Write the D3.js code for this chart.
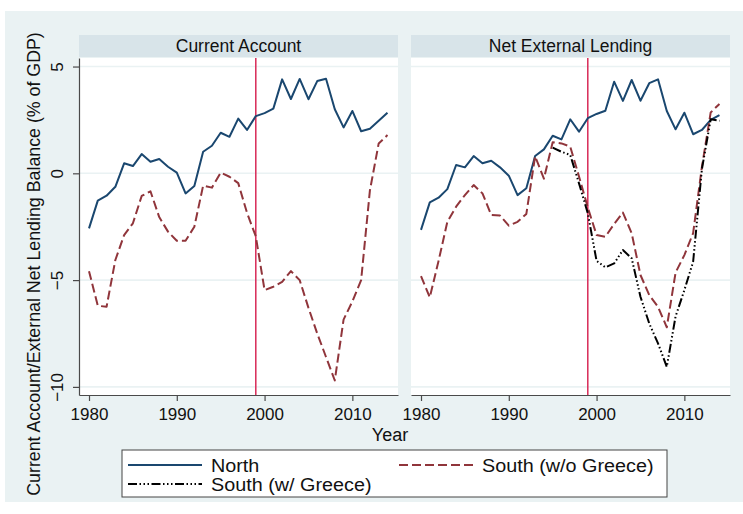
<!DOCTYPE html>
<html><head><meta charset="utf-8">
<script src="https://cdn.jsdelivr.net/npm/d3@7"></script>
<style>body{margin:0;background:#fff}svg{display:block;font-family:"Liberation Sans",Arial,Helvetica,sans-serif}</style>
</head><body><svg id="c" width="743" height="514"></svg>
<script>
const years = [1980,1981,1982,1983,1984,1985,1986,1987,1988,1989,1990,1991,1992,1993,1994,1995,1996,1997,1998,1999,2000,2001,2002,2003,2004,2005,2006,2007,2008,2009,2010,2011,2012,2013,2014];
const greeceYears = [1995,1996,1997,1998,1999,2000,2001,2002,2003,2004,2005,2006,2007,2008,2009,2010,2011,2012,2013,2014];
const panelTitles = ["Current Account", "Net External Lending"];
const seriesNames = ["North", "South (w/o Greece)", "South (w/ Greece)"];
const northCA = [-2.58,-1.28,-1.05,-0.63,0.47,0.34,0.90,0.54,0.67,0.31,0.03,-0.94,-0.59,1.01,1.29,1.90,1.71,2.56,2.03,2.68,2.82,3.03,4.40,3.48,4.42,3.47,4.32,4.43,3.00,2.15,2.92,1.97,2.09,2.46,2.84];
const southCA = [-4.58,-6.20,-6.25,-4.06,-2.89,-2.34,-1.06,-0.84,-2.05,-2.73,-3.16,-3.16,-2.50,-0.58,-0.67,0.03,-0.16,-0.46,-1.85,-2.95,-5.47,-5.31,-5.08,-4.58,-5.00,-6.30,-7.50,-8.60,-9.70,-6.85,-6.00,-5.00,-0.80,1.40,1.79];
const northNEL = [-2.65,-1.36,-1.14,-0.74,0.39,0.28,0.81,0.47,0.59,0.28,-0.11,-1.02,-0.70,0.81,1.12,1.76,1.59,2.53,1.95,2.58,2.78,2.93,4.29,3.39,4.37,3.40,4.22,4.40,2.92,2.06,2.84,1.83,2.03,2.50,2.73];
const southNEL = [-4.81,-5.81,-4.10,-2.27,-1.56,-1.02,-0.55,-0.94,-1.95,-1.98,-2.45,-2.27,-1.90,0.80,-0.25,1.46,1.40,1.25,-0.15,-1.60,-2.89,-2.97,-2.37,-1.84,-2.81,-4.76,-5.70,-6.25,-7.21,-4.65,-3.83,-2.80,0.30,2.85,3.25];
const southGreeceNEL = [1.20,1.01,0.86,-0.47,-1.87,-4.10,-4.40,-4.22,-3.59,-3.98,-5.78,-7.03,-7.96,-9.06,-6.70,-5.47,-4.14,0.20,2.53,2.46];
const xTicks = [1980,1990,2000,2010];
const yTicks = [5,0,-5,-10];
const euroYear = 1999;

const C = {bg:"#eaf2f3", strip:"#d8e4e9", grid:"#eaf2f3", north:"#1a476f", south:"#90353b", greece:"#000000", vline:"#d82a57", axis:"#4a4a4a"};
const FONT = "Liberation Sans, Arial, sans-serif";
const svg = d3.select("#c");
svg.append("rect").attr("x",5).attr("y",11).attr("width",738).attr("height",491).attr("fill",C.bg);

const yTop = 58, yBot = 395;
const y = d3.scaleLinear().domain([-10.38, 5.4]).range([yBot, yTop]);
const panelsX = [[79,398],[411,730]];
const panelData = [
  [{x:years, v:northCA, c:C.north, dash:null}, {x:years, v:southCA, c:C.south, dash:"9,4"}],
  [{x:years, v:northNEL, c:C.north, dash:null}, {x:years, v:southNEL, c:C.south, dash:"9,4"}, {x:greeceYears, v:southGreeceNEL, c:C.greece, dash:"9,2.5,1.5,2.5,1.5,2.5,1.5,2.5"}]
];

panelsX.forEach((px, i) => {
  const x = d3.scaleLinear().domain([1978.86, 2015.2]).range(px);
  const g = svg.append("g");
  g.append("rect").attr("x",px[0]).attr("y",35).attr("width",px[1]-px[0]).attr("height",22).attr("fill",C.strip);
  g.append("text").attr("x",(px[0]+px[1])/2).attr("y",52).attr("text-anchor","middle").attr("font-size",17.5).attr("fill","#111").text(panelTitles[i]);
  g.append("rect").attr("x",px[0]).attr("y",yTop).attr("width",px[1]-px[0]).attr("height",yBot-yTop).attr("fill","#fff");
  g.selectAll(".grid").data(yTicks).join("line").attr("x1",px[0]).attr("x2",px[1])
    .attr("y1",d=>y(d)).attr("y2",d=>y(d)).attr("stroke",C.grid).attr("stroke-width",1.6);
  const xa = g.append("g").attr("transform",`translate(0,${yBot})`)
    .call(d3.axisBottom(x).tickValues(xTicks).tickFormat(d3.format("d")).tickSize(6).tickSizeOuter(0));
  xa.select(".domain").attr("stroke",C.axis).attr("stroke-width",1.2);
  xa.selectAll(".tick line").attr("stroke",C.axis).attr("stroke-width",1.2);
  xa.selectAll(".tick text").attr("font-size",17).attr("fill","#111").attr("font-family",FONT).attr("dy",null).attr("y",25);
  if (i === 0) {
    const ya = g.append("g").attr("transform",`translate(${px[0]},0)`)
      .call(d3.axisLeft(y).tickValues(yTicks).tickSize(6).tickSizeOuter(0));
    ya.select(".domain").attr("stroke",C.axis).attr("stroke-width",1.2);
    ya.selectAll(".tick line").attr("stroke",C.axis).attr("stroke-width",1.2);
    ya.selectAll(".tick text").attr("font-size",17).attr("fill","#111").attr("font-family",FONT)
      .attr("x",null).attr("dy",null).attr("text-anchor","middle").attr("transform","translate(-16,0) rotate(-90)").attr("y",0);
  }
  g.append("line").attr("x1",x(euroYear)).attr("x2",x(euroYear)).attr("y1",yTop).attr("y2",yBot).attr("stroke",C.vline).attr("stroke-width",1.5);
  const line = d3.line().x(d=>x(d[0])).y(d=>y(d[1]));
  panelData[i].forEach(s => {
    g.append("path").datum(s.x.map((yr,k)=>[yr, s.v[k]])).attr("d",line).attr("fill","none")
      .attr("stroke",s.c).attr("stroke-width",2).attr("stroke-linejoin","round")
      .attr("stroke-dasharray",s.dash);
  });
});

svg.append("text").attr("transform","translate(40,264) rotate(-90)").attr("text-anchor","middle").attr("font-size",17.8).attr("fill","#111")
  .text("Current Account/External Net Lending Balance (% of GDP)");
svg.append("text").attr("x",390).attr("y",441).attr("text-anchor","middle").attr("font-size",18).attr("fill","#111").text("Year");

const lg = svg.append("g");
lg.append("rect").attr("x",122).attr("y",450).attr("width",545).attr("height",47).attr("fill","#fff").attr("stroke","#444").attr("stroke-width",1);
const legendItems = [
  {name:seriesNames[0], c:C.north, dash:null, lx:128, ty:465},
  {name:seriesNames[1], c:C.south, dash:"9,4", lx:399, ty:465},
  {name:seriesNames[2], c:C.greece, dash:"9,2.5,1.5,2.5,1.5,2.5,1.5,2.5", lx:128, ty:484}
];
legendItems.forEach(d => {
  lg.append("line").attr("x1",d.lx).attr("x2",d.lx+74).attr("y1",d.ty).attr("y2",d.ty).attr("stroke",d.c).attr("stroke-width",2).attr("stroke-dasharray",d.dash);
  lg.append("text").attr("transform",`translate(${d.lx+83},${d.ty+6.5}) scale(1.07,1)`).attr("font-size",18.5).attr("fill","#111").text(d.name);
});
</script></body></html>
